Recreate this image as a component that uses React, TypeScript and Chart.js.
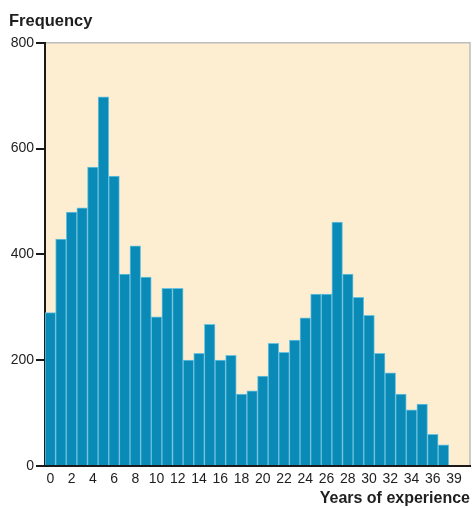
import React, { useEffect, useRef } from "react";
import { Chart, registerables } from "chart.js";

Chart.register(...registerables);

const categories = [
  "0", "1", "2", "3", "4", "5", "6", "7", "8", "9",
  "10", "11", "12", "13", "14", "15", "16", "17", "18", "19",
  "20", "21", "22", "23", "24", "25", "26", "27", "28", "29",
  "30", "31", "32", "33", "34", "35", "36", "37", "38", "39",
];

// tick labels shown on the x axis (one per category slot, blank = hidden)
const xTickLabels = [
  "0", "", "2", "", "4", "", "6", "", "8", "",
  "10", "", "12", "", "14", "", "16", "", "18", "",
  "20", "", "22", "", "24", "", "26", "", "28", "",
  "30", "", "32", "", "34", "", "36", "", "39", "",
];

const frequency = [
  290, 429, 480, 488, 565, 698, 548, 363, 416, 357,
  282, 336, 336, 200, 213, 268, 200, 209, 136, 142,
  170, 232, 215, 238, 280, 325, 325, 461, 363, 319,
  285, 213, 176, 136, 106, 117, 60, 40,
];

const yTicks = [0, 200, 400, 600, 800];

const FONT = "'Liberation Sans', Arial, sans-serif";

const bgPlugin = {
  id: "areaBg",
  beforeDraw(chart: any) {
    const { ctx, chartArea } = chart;
    if (!chartArea) return;
    ctx.save();
    ctx.fillStyle = "#FDEED2";
    ctx.fillRect(chartArea.left, chartArea.top, chartArea.right - chartArea.left, chartArea.bottom - chartArea.top);
    ctx.strokeStyle = "#BDBDBD";
    ctx.lineWidth = 1.5;
    ctx.beginPath();
    ctx.moveTo(chartArea.left, chartArea.top);
    ctx.lineTo(chartArea.right, chartArea.top);
    ctx.lineTo(chartArea.right, chartArea.bottom);
    ctx.stroke();
    ctx.restore();
  },
};

export default function App() {
  const ref = useRef<HTMLCanvasElement | null>(null);

  useEffect(() => {
    document.body.style.margin = "0";
    if (!ref.current) return;
    const chart = new Chart(ref.current, {
      type: "bar",
      data: {
        labels: categories,
        datasets: [
          {
            data: frequency,
            backgroundColor: "#0A8BB7",
            borderColor: "#6CC2DE",
            borderWidth: 1,
            barPercentage: 1,
            categoryPercentage: 1,
          },
        ],
      },
      plugins: [bgPlugin],
      options: {
        animation: false,
        responsive: false,
        layout: { padding: { left: 9, right: 2, top: 0, bottom: 0 } },
        plugins: {
          legend: { display: false },
          tooltip: { enabled: false },
          title: {
            display: true,
            text: "Frequency",
            align: "start",
            color: "#1E1E1E",
            font: { family: FONT, size: 16.5, weight: "bold" },
            padding: { top: 12, bottom: 11 },
          },
        },
        scales: {
          x: {
            type: "category",
            grid: { display: false, drawTicks: false },
            border: { display: true, color: "#1A1A1A", width: 2 },
            afterFit: (scale: any) => {
              scale.height = 42;
            },
            ticks: {
              autoSkip: false,
              maxRotation: 0,
              color: "#1E1E1E",
              font: { family: FONT, size: 14 },
              padding: 5,
              callback: (_v: any, i: number) => xTickLabels[i],
            },
            title: {
              display: true,
              text: "Years of experience",
              align: "end",
              color: "#1E1E1E",
              font: { family: FONT, size: 16, weight: "bold" },
              padding: { top: 2, bottom: 0 },
            },
          },
          y: {
            min: 0,
            max: 800,
            afterBuildTicks: (scale: any) => {
              scale.ticks = yTicks.map((v) => ({ value: v }));
            },
            afterFit: (scale: any) => {
              scale.width = 36;
            },
            grid: {
              drawOnChartArea: false,
              drawTicks: true,
              tickLength: 9,
              color: "#1A1A1A",
              lineWidth: 2,
            },
            border: { display: true, color: "#1A1A1A", width: 2 },
            ticks: {
              color: "#1E1E1E",
              font: { family: FONT, size: 14 },
              padding: 2,
            },
          },
        },
      },
    });
    return () => chart.destroy();
  }, []);

  return (
    <div style={{ width: 472, height: 508 }}>
      <canvas ref={ref} width={472} height={508} style={{ display: "block" }} />
    </div>
  );
}
